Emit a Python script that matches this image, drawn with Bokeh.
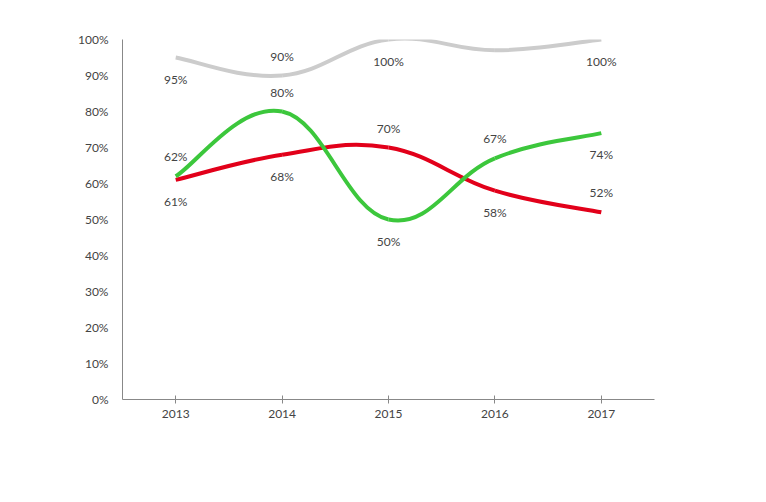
from bokeh.plotting import figure
from bokeh.models import Range1d, FixedTicker, Legend, LegendItem, ColumnDataSource, NumeralTickFormatter
from bokeh.embed import file_html
from bokeh.resources import INLINE
from bokeh.core.properties import value

years = ["2013", "2014", "2015", "2016", "2017"]
high = [0.61, 0.68, 0.70, 0.58, 0.52]
medium = [0.95, 0.90, 1.00, 0.97, 1.00]
low = [0.62, 0.80, 0.50, 0.67, 0.74]
high_lab_pos = ["below", "below", "above", "below", "above"]
med_lab_pos = ["below", "above", "below", "above", "below"]
low_lab_pos = ["above", "above", "below", "above", "below"]

FONT = "Lato"
TXT = "#444444"

p = figure(frame_width=532, frame_height=360, output_backend="svg", toolbar_location=None,
           x_range=Range1d(-0.5, 4.5), y_range=Range1d(0, 1),
           min_border_left=122, min_border_right=96, min_border_top=39, min_border_bottom=87)
p.outline_line_color = None
p.xgrid.visible = False
p.ygrid.visible = False

p.xaxis.ticker = FixedTicker(ticks=list(range(len(years))))
p.xaxis.major_label_overrides = {i: y for i, y in enumerate(years)}
p.yaxis.ticker = FixedTicker(ticks=[i / 10 for i in range(11)])
p.yaxis.formatter = NumeralTickFormatter(format="0%")
for ax in (p.xaxis, p.yaxis):
    ax.axis_line_color = "#888888"
    ax.major_label_text_font = FONT
    ax.major_label_text_font_size = "12px"
    ax.major_label_text_color = TXT
    ax.minor_tick_line_color = None
p.yaxis.major_tick_line_color = None
p.yaxis.major_label_standoff = 8
p.xaxis.major_tick_line_color = "#888888"
p.xaxis.major_tick_in = 4
p.xaxis.major_tick_out = 4
p.xaxis.major_label_standoff = 6


def spline(ys, k=0.2):
    xs = list(range(len(ys)))
    x0, y0, x1, y1, cx0, cy0, cx1, cy1 = [], [], [], [], [], [], [], []
    for i in range(len(ys) - 1):
        pm = max(i - 1, 0)
        pn = min(i + 2, len(ys) - 1)
        x0.append(xs[i]); y0.append(ys[i]); x1.append(xs[i + 1]); y1.append(ys[i + 1])
        cx0.append(xs[i] + (xs[i + 1] - xs[pm]) * k)
        cy0.append(ys[i] + (ys[i + 1] - ys[pm]) * k)
        cx1.append(xs[i + 1] - (xs[pn] - xs[i]) * k)
        cy1.append(ys[i + 1] - (ys[pn] - ys[i]) * k)
    return ColumnDataSource(dict(x0=x0, y0=y0, x1=x1, y1=y1, cx0=cx0, cy0=cy0, cx1=cx1, cy1=cy1))


series = [("High", high, "#e2001a", high_lab_pos),
          ("Medium", medium, "#cccccc", med_lab_pos),
          ("Low", low, "#3cc73c", low_lab_pos)]
items = []
for name, ys, col, pos in series:
    p.bezier(x0="x0", y0="y0", x1="x1", y1="y1", cx0="cx0", cy0="cy0", cx1="cx1", cy1="cy1",
             source=spline(ys), line_color=col, line_width=4)
    lsq = p.scatter([-10], [-10], marker="square", size=13, color=col)
    items.append(LegendItem(label=name, renderers=[lsq]))
    xs = list(range(len(ys)))
    for position in ("above", "below"):
        idx = [i for i in range(len(ys)) if pos[i] == position]
        src = ColumnDataSource(dict(x=[xs[i] for i in idx], y=[ys[i] for i in idx],
                                    t=[f"{round(ys[i]*100)}%" for i in idx]))
        p.text(x="x", y="y", text="t", source=src, text_font=value(FONT), text_font_size="12px",
               text_color=TXT, text_align="center",
               text_baseline="bottom" if position == "above" else "top",
               y_offset=-12 if position == "above" else 14)

legend = Legend(items=items, orientation="horizontal", location=(1, -61),
                glyph_width=13, glyph_height=13, label_standoff=17, label_width=75, spacing=13,
                label_text_font=FONT, label_text_font_size="12px", label_text_color=TXT,
                border_line_color=None, background_fill_alpha=0, padding=0, margin=0)
p.add_layout(legend, "center")

open("out.html", "w").write(file_html(p, INLINE))
